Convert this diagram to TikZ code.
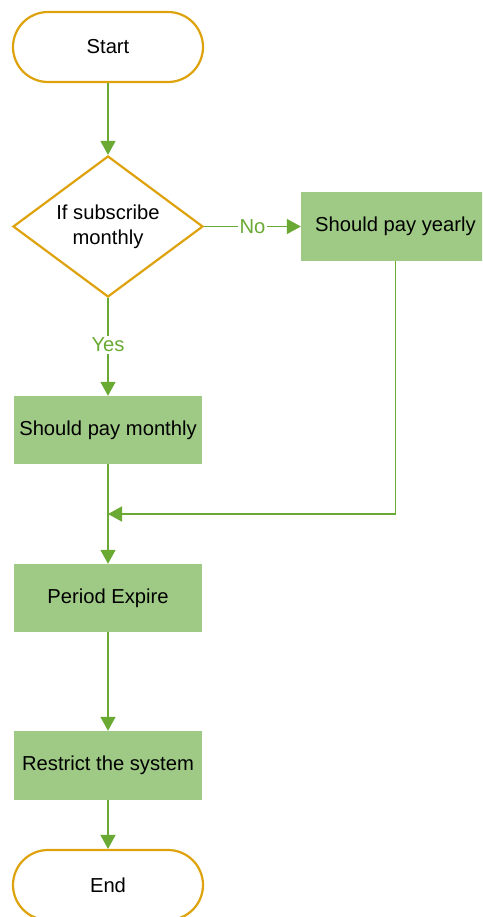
\documentclass[tikz,border=0pt]{standalone}
\usepackage{fontspec}
\setmainfont{Liberation Sans}
\usetikzlibrary{shapes.geometric,arrows.meta}
\definecolor{termedge}{RGB}{222,162,12}
\definecolor{boxfill}{RGB}{158,202,133}
\definecolor{linkgreen}{RGB}{106,170,52}
\tikzset{
  terminal/.style={draw=termedge, line width=2.2pt, fill=white, rounded corners=35pt,
    minimum width=190pt, minimum height=70pt, inner sep=0pt, font=\fontsize{20.2}{23}\selectfont},
  decision/.style={diamond, shape aspect=1.34, draw=termedge, line width=2.2pt, fill=white,
    minimum width=190pt, minimum height=141pt, inner sep=0pt, align=center,
    font=\fontsize{20.2}{25}\selectfont},
  process/.style={fill=boxfill, draw=none, minimum width=188pt, minimum height=68pt,
    inner sep=0pt, font=\fontsize{20.2}{23}\selectfont},
  link/.style={draw=linkgreen, line width=1.5pt, -{Triangle[length=14pt,width=15pt]}},
  branch/.style={fill=white, text=linkgreen, inner sep=2pt, font=\fontsize{20.2}{23}\selectfont}
}
\begin{document}
\begin{tikzpicture}[x=1pt,y=-1pt]
  \clip (0,0) rectangle (482,917);
  \fill[white] (0,0) rectangle (482,917);

  % flow nodes
  \node[terminal] (start) at (108,47) {Start};
  \node[decision] (dec) at (108,226.5) {If subscribe\\monthly};
  \node[process, minimum width=189pt, minimum height=69pt] (yearly) at (395.5,226.5) {Should pay yearly};
  \node[process] (monthly) at (108,430) {Should pay monthly};
  \node[process] (expire) at (108,598) {Period Expire};
  \node[process, minimum height=69pt] (restrict) at (108,765.5) {Restrict the system};
  \node[terminal] (end) at (108,885) {End};

  % junction where the yearly branch rejoins
  \coordinate (merge) at (108,514);

  % connectors
  \draw[link] (start) -- (dec);
  \draw[link] (dec.east) -- node[branch] (no) {No} (yearly.west);
  \draw[link] (dec.south) -- node[branch, pos=0.48] (yes) {Yes} (monthly.north);
  \draw[link] (yearly.south) |- (merge);
  \draw[link] (monthly.south) -- (expire.north);
  \draw[link] (expire.south) -- (restrict.north);
  \draw[link] (restrict.south) -- (end.north);
\end{tikzpicture}
\end{document}
